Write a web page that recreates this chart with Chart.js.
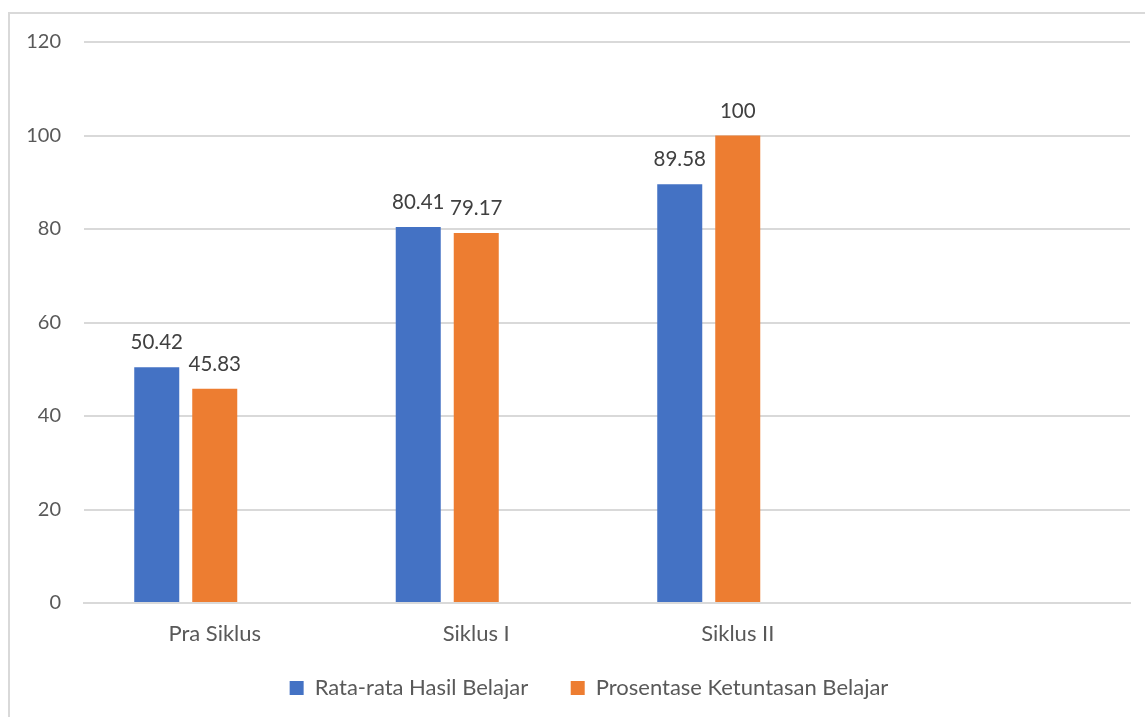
<!DOCTYPE html>
<html>
<head>
<meta charset="utf-8">
<script src="https://cdn.jsdelivr.net/npm/chart.js@4.4.1/dist/chart.umd.min.js"></script>
<style>
  html, body { margin: 0; padding: 0; background: #fff; }
  #frame {
    position: absolute; left: 8px; top: 12px; width: 1200px; height: 800px;
    border: 2px solid #d9d9d9; box-sizing: border-box;
  }
  #wrap { position: absolute; left: 0; top: 0; width: 1145px; height: 717px; }
</style>
</head>
<body>
<div id="frame"></div>
<div id="wrap"><canvas id="barChart"></canvas></div>
<script>
  // data
  var categories = ["Pra Siklus", "Siklus I", "Siklus II", ""];
  var rataRata = [50.42, 80.41, 89.58, null];
  var prosentase = [45.83, 79.17, 100, null];
  var kosong = [null, null, null, null]; // empty third series in the source sheet
  var yTicks = [0, 20, 40, 60, 80, 100, 120];

  var fontFamily = "Lato, 'Open Sans', sans-serif";

  // draws value labels above bars
  var valueLabels = {
    id: "valueLabels",
    afterDatasetsDraw: function (chart) {
      var ctx = chart.ctx;
      ctx.save();
      ctx.font = "20.5px " + fontFamily;
      ctx.fillStyle = "#404040";
      ctx.textAlign = "center";
      ctx.textBaseline = "alphabetic";
      chart.data.datasets.forEach(function (ds, i) {
        chart.getDatasetMeta(i).data.forEach(function (bar, j) {
          if (ds.data[j] == null) return;
          ctx.fillText(String(ds.data[j]), bar.x, bar.y - 18);
        });
      });
      ctx.restore();
    },
  };

  // legend sits a bit right of centre in the original
  var legendShift = {
    id: "legendShift",
    afterLayout: function (chart) {
      chart.legend.left += 48;
    },
  };

  try {
    var ctx = document.getElementById("barChart");
    var myChart = new Chart(ctx, {
      type: "bar",
      data: {
        labels: categories,
        datasets: [
          {
            label: "Rata-rata Hasil Belajar",
            data: rataRata,
            backgroundColor: "#4472C4",
            barPercentage: 0.776,
            categoryPercentage: 0.6654,
          },
          {
            label: "Prosentase Ketuntasan Belajar",
            data: prosentase,
            backgroundColor: "#ED7D31",
            barPercentage: 0.776,
            categoryPercentage: 0.6654,
          },
          {
            label: "",
            data: kosong,
            backgroundColor: "#A5A5A5",
            barPercentage: 0.776,
            categoryPercentage: 0.6654,
          },
        ],
      },
      options: {
        responsive: true,
        maintainAspectRatio: false,
        animation: false,
        layout: { padding: { left: 0, right: 15, top: 42, bottom: 8 } },
        plugins: {
          legend: {
            position: "bottom",
            labels: {
              font: { family: fontFamily, size: 22 },
              color: "#595959",
              boxWidth: 14,
              boxHeight: 14,
              padding: 20,
              generateLabels: function (chart) {
                var items = Chart.defaults.plugins.legend.labels.generateLabels(chart);
                items = items.filter(function (it) { return it.text !== ""; });
                items[0].text = items[0].text + "    ";
                return items;
              },
            },
          },
          tooltip: { enabled: false },
        },
        scales: {
          x: {
            afterFit: function (scale) { scale.height = 54; },
            grid: { display: false },
            border: { color: "#d9d9d9", width: 2 },
            ticks: { font: { family: fontFamily, size: 22 }, color: "#595959", padding: 10 },
          },
          y: {
            min: 0,
            max: 120,
            afterFit: function (scale) { scale.width = 84; },
            afterBuildTicks: function (scale) {
              scale.ticks = yTicks.map(function (v) { return { value: v }; });
            },
            grid: { color: "#d9d9d9", lineWidth: 2, drawTicks: false },
            border: { display: false },
            ticks: { font: { family: fontFamily, size: 20 }, color: "#595959", padding: 23 },
          },
        },
      },
      plugins: [valueLabels, legendShift],
    });
  } catch (error) {
    console.log(error);
  }
</script>
</body>
</html>
